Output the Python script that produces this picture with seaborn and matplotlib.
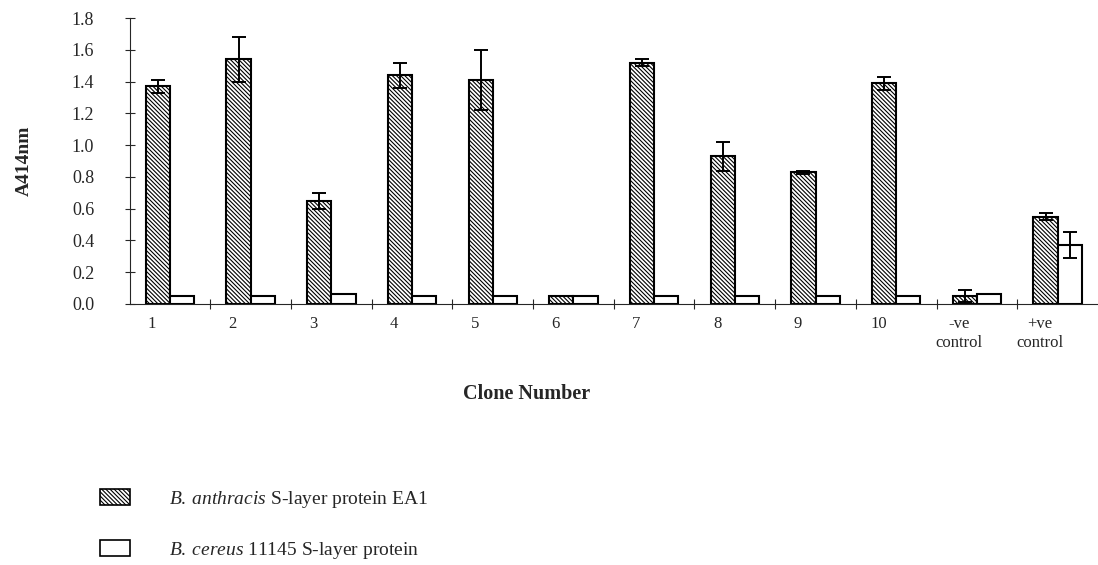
import numpy as np
import pandas as pd
import matplotlib.pyplot as plt
import seaborn as sns
from matplotlib.patches import Patch

# values
clones = ['1', '2', '3', '4', '5', '6', '7', '8', '9', '10', '-ve\ncontrol', '+ve\ncontrol']
ea1 = [1.37, 1.54, 0.65, 1.44, 1.41, 0.05, 1.52, 0.93, 0.83, 1.39, 0.05, 0.55]
ea1_err = [0.04, 0.14, 0.05, 0.08, 0.19, 0.0, 0.02, 0.09, 0.01, 0.04, 0.04, 0.02]
cereus = [0.05, 0.05, 0.06, 0.05, 0.05, 0.05, 0.05, 0.05, 0.05, 0.05, 0.06, 0.37]
cereus_err = [0, 0, 0, 0, 0, 0, 0, 0, 0, 0, 0, 0.08]
series = ['EA1', '11145']

df = pd.DataFrame({
    'clone': clones * 2,
    'A414': ea1 + cereus,
    'protein': [series[0]] * len(clones) + [series[1]] * len(clones),
})

sns.set_style('ticks')
plt.rcParams['font.family'] = ['Liberation Serif', 'DejaVu Serif']
plt.rcParams['mathtext.fontset'] = 'custom'
plt.rcParams['mathtext.rm'] = 'Liberation Serif'
plt.rcParams['mathtext.it'] = 'Liberation Serif:italic'
plt.rcParams['hatch.linewidth'] = 0.8

HATCH = '\\' * 8

fig = plt.figure(figsize=(10.98, 5.65), dpi=100)
ax = fig.add_axes([0.118, 0.462, 0.882, 0.506])

sns.barplot(data=df, x='clone', y='A414', hue='protein', order=clones,
            palette=['white', 'white'], width=0.6, errorbar=None,
            edgecolor='black', linewidth=1.5, legend=False, ax=ax)

# hatch the EA1 bars and add error bars
errs = [ea1_err, cereus_err]
bar_sets = list(ax.containers)[:2]
for k, cont in enumerate(bar_sets):
    for bar, e in zip(cont, errs[k]):
        if k == 0:
            bar.set_hatch(HATCH)
        if e > 0:
            xc = bar.get_x() + bar.get_width() / 2
            ax.errorbar(xc, bar.get_height(), yerr=e, color='black',
                        capsize=5, elinewidth=1.4, capthick=1.4, zorder=5)

ax.set_xlim(-0.5, 11.5)
ax.set_ylim(0, 1.8)
ax.set_yticks(np.arange(0, 1.81, 0.2))
ax.set_yticklabels([f'{v:.1f}' for v in np.arange(0, 1.81, 0.2)], fontsize=13)
ax.tick_params(axis='y', direction='inout', length=7, width=0.8, pad=22)

ax.set_xticks(np.arange(len(clones)) - 0.22)
ax.set_xticklabels(clones, fontsize=12, linespacing=1.2)
ax.set_xticks(np.arange(len(clones) - 1) + 0.5, minor=True)
ax.tick_params(axis='x', which='major', length=0, pad=9)
ax.tick_params(axis='x', which='minor', direction='inout', length=7, width=0.8)

sns.despine(ax=ax)
ax.spines['left'].set_linewidth(0.8)
ax.spines['bottom'].set_linewidth(0.8)

ax.set_xlabel('Clone Number', fontsize=14.5, fontweight='bold')
ax.xaxis.set_label_coords(0.41, -0.28)
ax.set_ylabel('A414nm', fontsize=14, fontweight='bold')
ax.yaxis.set_label_coords(-0.1, 0.5)

handles = [Patch(facecolor='white', edgecolor='black', hatch=HATCH, linewidth=1.2),
           Patch(facecolor='white', edgecolor='black', linewidth=1.2)]
labels = [r'$\it{B.\:anthracis}$ S-layer protein EA1',
          r'$\it{B.\:cereus}$ 11145 S-layer protein']
fig.legend(handles, labels, loc='upper left', bbox_to_anchor=(0.091, 0.135),
           frameon=False, fontsize=14, handlelength=1.55, handleheight=0.85,
           handletextpad=2.0, labelspacing=1.55, borderaxespad=0, borderpad=0)

fig.savefig('out.png', dpi=100, facecolor='white')
